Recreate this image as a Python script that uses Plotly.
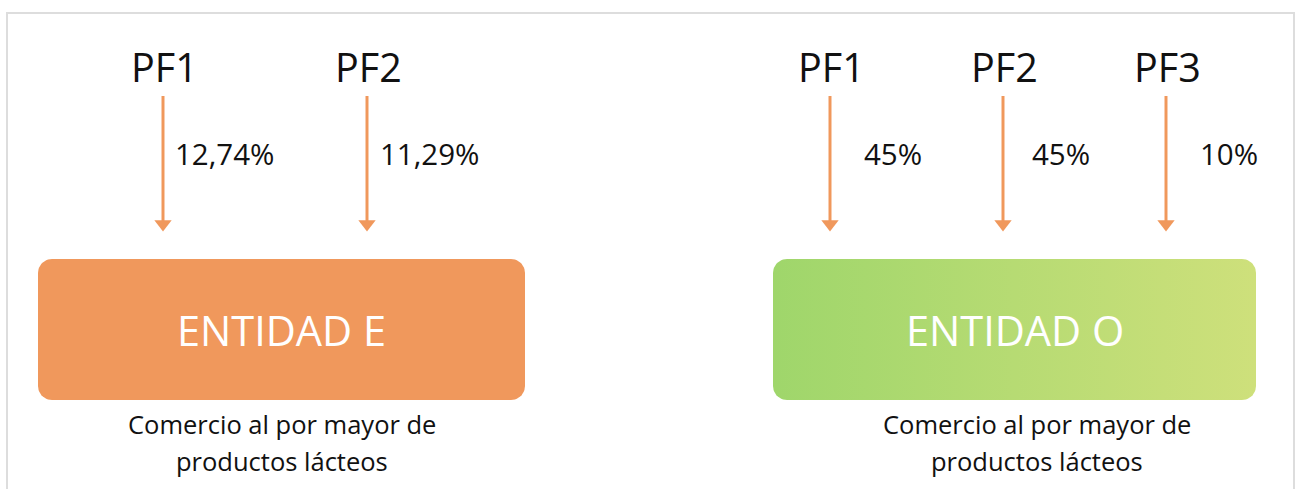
import numpy as np
import plotly.graph_objects as go

# ---- data ----
left_sources = ["PF1", "PF2"]
left_shares = ["12,74%", "11,29%"]
right_sources = ["PF1", "PF2", "PF3"]
right_shares = ["45%", "45%", "10%"]
entities = ["ENTIDAD E", "ENTIDAD O"]
subtitle_lines = ["Comercio al por mayor de", "productos lácteos"]

# ---- layout constants ----
W, H = 1299, 489
ORANGE = "#F0985C"
FONT = "Open Sans"
left_arrow_x = [163, 367]
right_arrow_x = [830, 1003, 1166]
left_share_x = [173, 378]
right_share_x = [862, 1030, 1198]
boxes = [(38, 525, 259, 400), (773, 1256, 259, 400)]
sub_cx = [282, 1037]
sub_y = [424, 461]


def rounded_rect(x0, x1, y0, y1, r, n=12):
    xs, ys = [], []
    corners = [(x1 - r, y0 + r, -90, 0), (x1 - r, y1 - r, 0, 90),
               (x0 + r, y1 - r, 90, 180), (x0 + r, y0 + r, 180, 270)]
    for cx, cy, a0, a1 in corners:
        t = np.radians(np.linspace(a0, a1, n))
        xs += list(cx + r * np.cos(t))
        ys += list(cy + r * np.sin(t))
    xs.append(xs[0]); ys.append(ys[0])
    return xs, ys


fig = go.Figure()

# boxes
x0, x1, y0, y1 = boxes[0]
xs, ys = rounded_rect(x0, x1, y0, y1, 14)
fig.add_trace(go.Scatter(x=xs, y=ys, mode="lines", fill="toself",
                         fillcolor=ORANGE, line=dict(width=0, color=ORANGE),
                         hoverinfo="skip", showlegend=False))
x0, x1, y0, y1 = boxes[1]
xs, ys = rounded_rect(x0, x1, y0, y1, 14)
fig.add_trace(go.Scatter(x=xs, y=ys, mode="lines", fill="toself",
                         fillgradient=dict(type="horizontal",
                                           colorscale=[[0, "#9FD66B"], [1, "#CEE07B"]]),
                         line=dict(width=0, color="#B5DC72"),
                         hoverinfo="skip", showlegend=False))

shapes = [dict(type="rect", xref="x", yref="y", x0=7, x1=1294, y0=13, y1=500,
               line=dict(color="#DDDDDD", width=2), fillcolor="rgba(0,0,0,0)", layer="below")]
annotations = []

groups = [(left_sources, left_shares, left_arrow_x, left_share_x),
          (right_sources, right_shares, right_arrow_x, right_share_x)]
for srcs, shares, axs, sxs in groups:
    for s, p, ax, sx in zip(srcs, shares, axs, sxs):
        shapes.append(dict(type="line", xref="x", yref="y", x0=ax, x1=ax, y0=96, y1=221,
                           line=dict(color=ORANGE, width=3)))
        fig.add_trace(go.Scatter(x=[ax], y=[224], mode="markers",
                                 marker=dict(symbol="triangle-down", size=15, color=ORANGE,
                                             line=dict(width=0)),
                                 hoverinfo="skip", showlegend=False))
        annotations.append(dict(x=ax + 1.5, y=67, xref="x", yref="y", text=s, showarrow=False,
                                font=dict(family=FONT, size=39.5, color="#111111"),
                                xanchor="center", yanchor="middle"))
        annotations.append(dict(x=sx, y=153, xref="x", yref="y", text=p, showarrow=False,
                                font=dict(family=FONT, size=29.5, color="#111111"),
                                xanchor="left", yanchor="middle"))

for (x0, x1, y0, y1), ent, cx in zip(boxes, entities, sub_cx):
    annotations.append(dict(x=(x0 + x1) / 2, y=(y0 + y1) / 2, xref="x", yref="y", text=ent,
                            showarrow=False, font=dict(family=FONT, size=41.5, color="white"),
                            xanchor="center", yanchor="middle"))
    for line, ly in zip(subtitle_lines, sub_y):
        annotations.append(dict(x=cx, y=ly, xref="x", yref="y", text=line, showarrow=False,
                                font=dict(family=FONT, size=25.5, color="#111111"),
                                xanchor="center", yanchor="middle"))

fig.update_layout(
    width=W, height=H, margin=dict(l=0, r=0, t=0, b=0),
    paper_bgcolor="white", plot_bgcolor="white",
    xaxis=dict(range=[0, W], visible=False, fixedrange=True),
    yaxis=dict(range=[H, 0], visible=False, fixedrange=True),
    shapes=shapes, annotations=annotations,
)

fig.write_html("out.html", config={"displayModeBar": False},
               post_script="document.body.style.margin='0';document.body.style.overflow='hidden';")
